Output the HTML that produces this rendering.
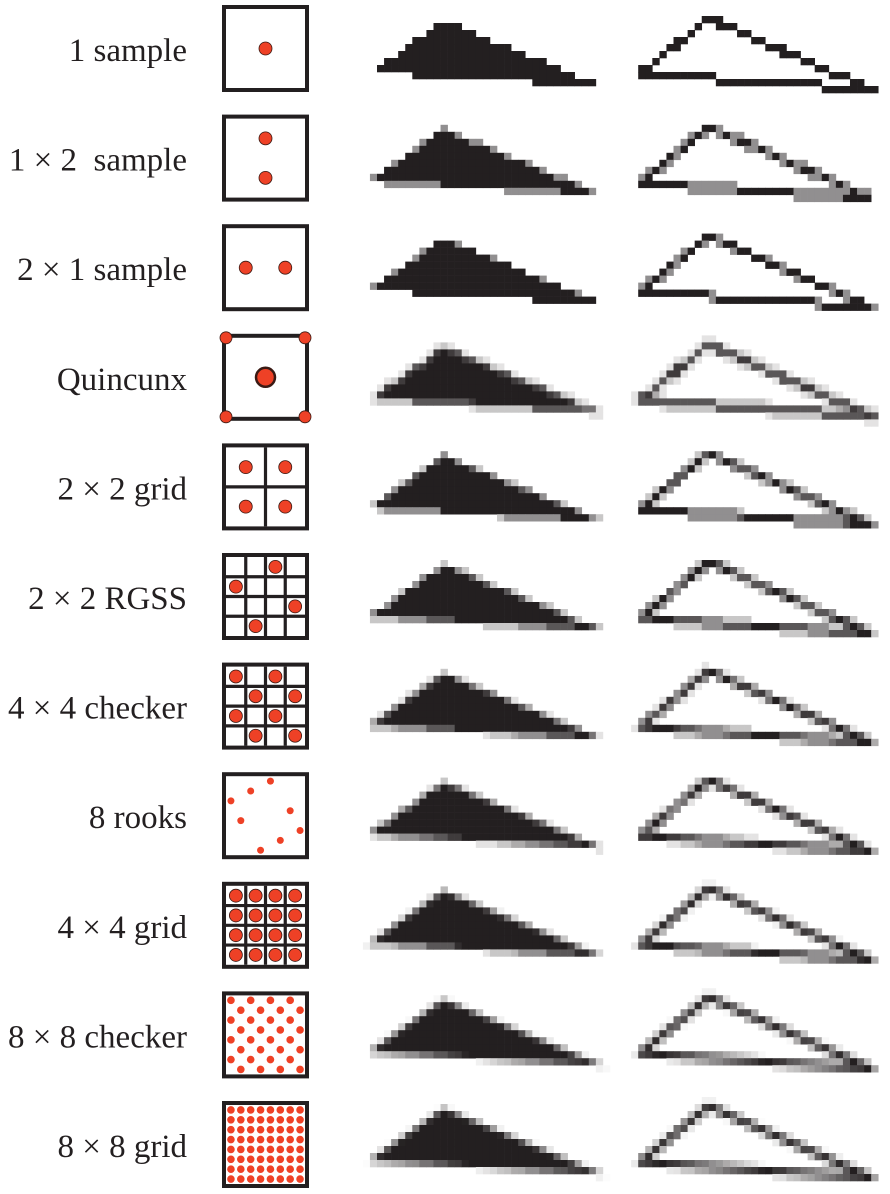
<!DOCTYPE html>
<html><head><meta charset="utf-8"><style>
html,body{margin:0;padding:0;background:#fff;}
svg{display:block;}
text{font-family:"Liberation Serif",serif;font-size:33px;fill:#231f20;white-space:pre;}
</style></head><body>
<svg id="fig" width="890" height="1194" viewBox="0 0 890 1194" xmlns="http://www.w3.org/2000/svg"></svg>
<script>
const labels = ["1 sample","1 \u00d7 2  sample","2 \u00d7 1 sample","Quincunx","2 \u00d7 2 grid","2 \u00d7 2 RGSS","4 \u00d7 4 checker","8 rooks","4 \u00d7 4 grid","8 \u00d7 8 checker","8 \u00d7 8 grid"];
const gridLines = [0,0,0,0,2,4,4,0,4,0,0];
const dotRadius = [6.5,6.5,6.5,6,6.5,6.5,6.5,3.5,6.5,3.8,3.8];
const sixteenths = v => (v)/16;
function gridPts(n){const p=[];for(let r=0;r<n;r++)for(let c=0;c<n;c++)p.push([(c+0.5)/n,(r+0.5)/n,1]);return p;}
function checkerPts(n){const p=[];for(let r=0;r<n;r++)for(let c=0;c<n;c++)if((r+c)%2===0)p.push([(c+0.5)/n,(r+0.5)/n,1]);return p;}
const rooks = [[9,1],[5,3],[1,5],[13,7],[3,9],[15,11],[11,13],[7,15]];
const patterns = [
  [[0.5,0.5,1]],
  [[0.5,0.25,1],[0.5,0.75,1]],
  [[0.25,0.5,1],[0.75,0.5,1]],
  [[0.5,0.5,4],[0,0,1],[1,0,1],[0,1,1],[1,1,1]],
  gridPts(2),
  [[0.625,0.125,1],[0.125,0.375,1],[0.875,0.625,1],[0.375,0.875,1]],
  checkerPts(4),
  rooks.map(([x,y])=>[sixteenths(x),sixteenths(y),1]),
  gridPts(4),
  checkerPts(8),
  gridPts(8)
];
const filledTri = [[-1.2,10.15],[9.4,2.6],[32.2,12.1]];
const outlineTri = [[0.3,10.3],[10.0,2.3],[33.0,12.5]];

const NS="http://www.w3.org/2000/svg";
const svg=document.getElementById('fig');
function mk(tag,attrs,parent){const e=document.createElementNS(NS,tag);for(const k in attrs)e.setAttribute(k,attrs[k]);(parent||svg).appendChild(e);return e;}
function sgn(p,a,b){return (p[0]-b[0])*(a[1]-b[1])-(a[0]-b[0])*(p[1]-b[1]);}
function inTri(p,t){const d1=sgn(p,t[0],t[1]),d2=sgn(p,t[1],t[2]),d3=sgn(p,t[2],t[0]);const neg=d1<0||d2<0||d3<0,pos=d1>0||d2>0||d3>0;return !(neg&&pos);}
function segDist(p,a,b){const dx=b[0]-a[0],dy=b[1]-a[1];let t=((p[0]-a[0])*dx+(p[1]-a[1])*dy)/(dx*dx+dy*dy);t=Math.max(0,Math.min(1,t));const x=a[0]+t*dx-p[0],y=a[1]+t*dy-p[1];return Math.sqrt(x*x+y*y);}
function onOutline(p,t,hw){for(let i=0;i<3;i++){if(segDist(p,t[i],t[(i+1)%3])<=hw)return true;}return false;}
const CW=7.06,CH=7.0;
function raster(g,x0,y0,pat,test){
  const tw=pat.reduce((s,q)=>s+q[2],0);
  for(let r=0;r<14;r++)for(let c=-2;c<36;c++){
    let cov=0;
    for(const q of pat){if(test([c+q[0],r+q[1]]))cov+=q[2];}
    cov/=tw;
    if(cov<=0.001)continue;
    const v=Math.round(255-cov*(255-35)),v2=Math.round(255-cov*(255-31)),v3=Math.round(255-cov*(255-32));
    const rc=mk('rect',{x:(x0+c*CW).toFixed(2),y:(y0+r*CH).toFixed(2),width:CW+0.3,height:CH+0.3,fill:`rgb(${v},${v2},${v3})`},g);
    
    
  }
}
for(let i=0;i<labels.length;i++){
  const row=mk('g',{});
  
  
  const by=5+i*109.6;
  const t=mk('text',{x:187,y:(by+56).toFixed(1),'text-anchor':'end'},row);
  t.textContent=labels[i];
  
  
  const box=mk('g',{},row);
  
  
  const ix=226, iy=by+4, iw=79;
  mk('rect',{x:ix,y:iy,width:iw,height:iw,fill:'#fff'},box);
  const n=gridLines[i];
  for(let k=1;k<n;k++){
    mk('line',{x1:ix+iw*k/n,y1:iy,x2:ix+iw*k/n,y2:iy+iw,stroke:'#231f20','stroke-width':3.2},box);
    mk('line',{x1:ix,y1:iy+iw*k/n,x2:ix+iw,y2:iy+iw*k/n,stroke:'#231f20','stroke-width':3.2},box);
  }
  mk('rect',{x:ix-2,y:iy-2,width:iw+4,height:iw+4,fill:'none',stroke:'#231f20','stroke-width':4},box);
  const stroked = dotRadius[i]>5;
  for(const q of patterns[i]){
    const big=(i===3&&q[2]>1);
    const d=mk('circle',{cx:(ix+q[0]*iw).toFixed(2),cy:(iy+q[1]*iw).toFixed(2),r:big?9.5:dotRadius[i],fill:'#ee4126',stroke:stroked?'#3a1a14':'none','stroke-width':big?2.5:0.8},box);
    
    
  }
  const ty=2+i*108.8;
  const gf=mk('g',{},row);
  
  
  raster(gf,377,ty,patterns[i],p=>inTri(p,filledTri));
  const go=mk('g',{},row);
  
  
  raster(go,638.2,ty,patterns[i],p=>onOutline(p,outlineTri,0.5));
}
</script>
</body></html>
